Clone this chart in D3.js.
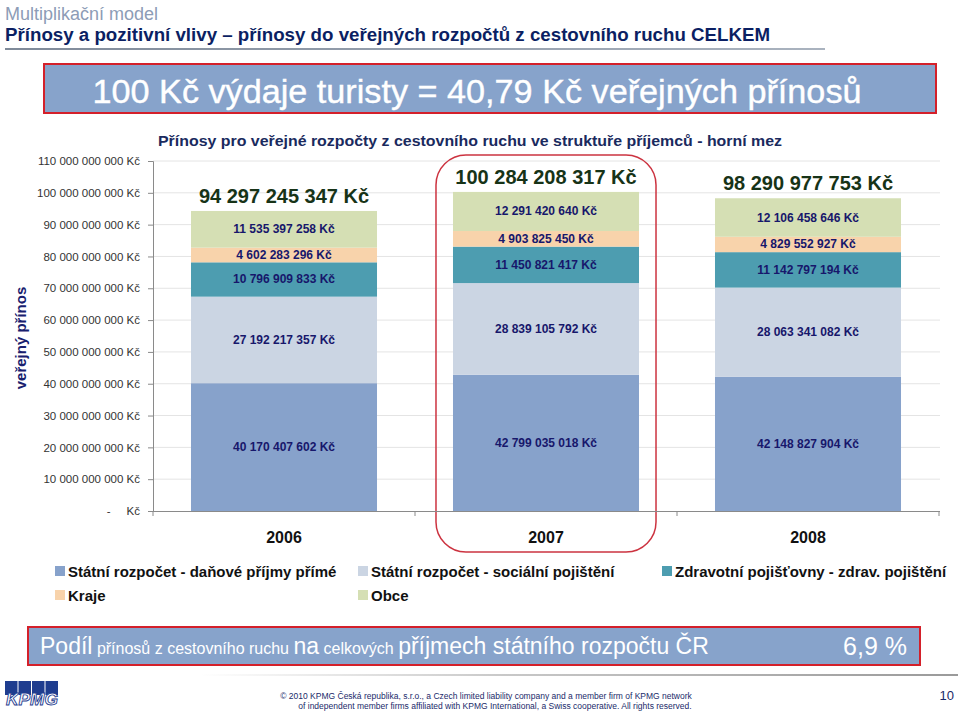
<!DOCTYPE html>
<html><head><meta charset="utf-8">
<script src="https://cdn.jsdelivr.net/npm/d3@7"></script>
<style>
body{margin:0;background:#fff;}
svg{display:block;font-family:"Liberation Sans",Arial,sans-serif;}
</style></head>
<body>
<svg id="c" width="960" height="714"></svg>
<script>
const years = ["2006","2007","2008"];
const seriesNames = ["Státní rozpočet - daňové příjmy přímé","Státní rozpočet - sociální pojištění","Zdravotní pojišťovny - zdrav. pojištění","Kraje","Obce"];
const directTax = [40170407602, 42799035018, 42148827904];
const socialIns = [27192217357, 28839105792, 28063341082];
const healthIns = [10796909833, 11450821417, 11142797194];
const regions = [4602283296, 4903825450, 4829552927];
const municipalities = [11535397258, 12291420640, 12106458646];
const totals = [94297245347, 100284208317, 98290977753];
const yTicks = [0,10e9,20e9,30e9,40e9,50e9,60e9,70e9,80e9,90e9,100e9,110e9];
const colors = ["#87a2cb","#cbd5e3","#4d9db0","#f8d3ab","#d5dfb4"];

const svg = d3.select("#c");
const narrow = '"Liberation Sans Narrow","Arial Narrow","Liberation Sans",sans-serif';
const fmt = v => { const s = Math.round(v).toString(); return s.replace(/\B(?=(\d{3})+(?!\d))/g, " ") + " Kč"; };

// Header
svg.append("text").attr("x",5).attr("y",20).attr("font-family",narrow).attr("font-size",18).attr("fill","#8d9cb6").text("Multiplikační model");
svg.append("text").attr("x",5).attr("y",41).attr("font-family",narrow).attr("font-weight","bold").attr("font-size",18).attr("fill","#0b1f63")
  .attr("textLength",765).attr("lengthAdjust","spacingAndGlyphs")
  .text("Přínosy a pozitivní vlivy – přínosy do veřejných rozpočtů z cestovního ruchu CELKEM");
const hg = svg.append("defs").append("linearGradient").attr("id","hl");
hg.append("stop").attr("offset","0").attr("stop-color","#7f8a99");
hg.append("stop").attr("offset","1").attr("stop-color","#aab3bf");
svg.append("rect").attr("x",5).attr("y",48).attr("width",820).attr("height",2).attr("fill","url(#hl)");

// Top box
svg.append("rect").attr("x",44).attr("y",64).attr("width",892).attr("height",49).attr("fill","#87a3cb").attr("stroke","#d4202a").attr("stroke-width",2);
svg.append("text").attr("x",477).attr("y",103).attr("text-anchor","middle").attr("font-family",narrow).attr("font-size",34).attr("fill","#fff")
  .attr("stroke","#fff").attr("stroke-width",0.4)
  .attr("textLength",769).attr("lengthAdjust","spacingAndGlyphs").text("100 Kč výdaje turisty = 40,79 Kč veřejných přínosů");

// Chart title
svg.append("text").attr("x",470).attr("y",146).attr("text-anchor","middle").attr("font-weight","bold").attr("font-size",15.5).attr("fill","#1a2a5e")
  .attr("textLength",624).attr("lengthAdjust","spacingAndGlyphs")
  .text("Přínosy pro veřejné rozpočty z cestovního ruchu ve struktuře příjemců - horní mez");

// Scales
const y = d3.scaleLinear().domain([0,110e9]).range([511,161]);
const x = d3.scaleBand().domain(years).range([153,939]).paddingInner(0.29).paddingOuter(0.145);

// Gridlines
svg.append("g").selectAll("line").data(yTicks.slice(1)).join("line")
  .attr("x1",153).attr("x2",940).attr("y1",d=>y(d)).attr("y2",d=>y(d)).attr("stroke","#e4e4e4").attr("stroke-width",1);

// Y axis
const yAxis = d3.axisLeft(y).tickValues(yTicks).tickSize(5).tickPadding(8)
  .tickFormat(d => d===0 ? "-     Kč" : fmt(d));
const ga = svg.append("g").attr("transform","translate(153,0)").call(yAxis);
ga.select(".domain").attr("stroke","#8a8a8a");
ga.selectAll(".tick line").attr("stroke","#8a8a8a");
ga.selectAll("text").attr("font-size",11.5).attr("fill","#333").attr("font-family","Liberation Sans, Arial, sans-serif").style("white-space","pre");

svg.append("text").attr("transform","translate(26,338) rotate(-90)").attr("text-anchor","middle").attr("font-weight","bold").attr("font-size",15).attr("fill","#18206e").text("veřejný přínos");

// Stacked data
const seriesArrays = [directTax, socialIns, healthIns, regions, municipalities];
const table = years.map((yr,i)=>{ const o={year:yr}; seriesArrays.forEach((a,k)=>o["s"+k]=a[i]); return o; });
const stack = d3.stack().keys(seriesArrays.map((a,k)=>"s"+k))(table);

// Highlight rounded rect around 2007
svg.append("rect").attr("x",x("2007")-17).attr("y",155).attr("width",x.bandwidth()+34).attr("height",397).attr("rx",30).attr("ry",30)
  .attr("fill","none").attr("stroke","#cc3340").attr("stroke-width",1.5);

const gb = svg.append("g");
stack.forEach((layer,k)=>{
  gb.selectAll(null).data(layer).join("rect")
    .attr("x",d=>x(d.data.year)).attr("width",x.bandwidth())
    .attr("y",d=>y(d[1])).attr("height",d=>y(d[0])-y(d[1])).attr("fill",colors[k]);
});
stack.forEach((layer,k)=>{
  gb.selectAll(null).data(layer).join("text")
    .attr("x",d=>x(d.data.year)+x.bandwidth()/2).attr("y",d=>(y(d[0])+y(d[1]))/2+4)
    .attr("text-anchor","middle").attr("font-weight","bold").attr("font-size",12).attr("fill","#17176b")
    .text(d=>fmt(d[1]-d[0]));
});
// totals
gb.selectAll(null).data(years).join("text")
  .attr("x",d=>x(d)+x.bandwidth()/2).attr("y",(d,i)=>y(totals[i])-8)
  .attr("text-anchor","middle").attr("font-weight","bold").attr("font-size",20).attr("fill","#173317")
  .text((d,i)=>fmt(totals[i]));

// X axis
const xa = svg.append("g");
xa.append("line").attr("x1",153).attr("x2",940).attr("y1",511.5).attr("y2",511.5).attr("stroke","#8a8a8a");
const bounds = [153, ...years.slice(1).map(d=>x(d)-x.step()*x.paddingInner()/2), 939];
xa.selectAll(null).data(bounds).join("line").attr("x1",d=>d).attr("x2",d=>d).attr("y1",511).attr("y2",516).attr("stroke","#8a8a8a");
xa.selectAll(null).data(years).join("text").attr("x",d=>x(d)+x.bandwidth()/2).attr("y",543).attr("text-anchor","middle")
  .attr("font-weight","bold").attr("font-size",16).attr("fill","#111").text(d=>d);

// Legend
const legPos = [[55,577],[358,577],[662,577],[55,601],[358,601]];
const lg = svg.append("g");
seriesNames.forEach((n,k)=>{
  lg.append("rect").attr("x",legPos[k][0]).attr("y",legPos[k][1]-11).attr("width",10).attr("height",10).attr("fill",colors[k]);
  lg.append("text").attr("x",legPos[k][0]+13).attr("y",legPos[k][1]).attr("font-family",narrow).attr("font-weight","bold").attr("font-size",15).attr("fill","#111").text(n);
});

// Bottom box
svg.append("rect").attr("x",28).attr("y",627).attr("width",892).attr("height",38).attr("fill","#87a3cb").attr("stroke","#d4202a").attr("stroke-width",2);
const bt = svg.append("text").attr("x",40).attr("y",654).attr("font-family",narrow).attr("fill","#fff");
[["Podíl",23],[" přínosů z cestovního ruchu ",16],["na",23],[" celkových ",16],["příjmech státního rozpočtu ČR",23]].forEach(p=>{
  bt.append("tspan").attr("font-size",p[1]).text(p[0]);
});
svg.append("text").attr("x",907).attr("y",655).attr("text-anchor","end").attr("font-family",narrow).attr("font-size",25).attr("fill","#fff").text("6,9 %");

// Footer
const fg = svg.append("defs").append("linearGradient").attr("id","fl");
fg.append("stop").attr("offset","0").attr("stop-color","#fff");
fg.append("stop").attr("offset","0.4").attr("stop-color","#c8c8c8");
fg.append("stop").attr("offset","1").attr("stop-color","#9a9a9a");
svg.append("rect").attr("x",200).attr("y",674).attr("width",758).attr("height",2).attr("fill","url(#fl)");
const logo = svg.append("g");
[0,1,2,3].forEach(i=>logo.append("rect").attr("x",5+i*13.5).attr("y",681).attr("width",12.5).attr("height",14).attr("fill","#1f3d8f"));
logo.append("text").attr("x",6).attr("y",705).attr("font-weight","bold").attr("font-style","italic").attr("font-size",17).attr("fill","#fff").attr("stroke","#1f3d8f").attr("stroke-width",0.9)
  .attr("textLength",52).attr("lengthAdjust","spacingAndGlyphs").text("KPMG");
svg.append("text").attr("x",486).attr("y",699).attr("text-anchor","middle").attr("font-family",narrow).attr("font-size",8.5).attr("fill","#1a2a6a")
  .text("© 2010 KPMG Česká republika, s.r.o., a Czech limited liability company and a member firm of KPMG network");
svg.append("text").attr("x",495).attr("y",709).attr("text-anchor","middle").attr("font-family",narrow).attr("font-size",8.5).attr("fill","#1a2a6a")
  .text("of independent member firms affiliated with KPMG International, a Swiss cooperative. All rights reserved.");
svg.append("text").attr("x",954).attr("y",700).attr("text-anchor","end").attr("font-family",narrow).attr("font-size",13).attr("fill","#1a2a6a").text("10");
</script>
</body></html>
